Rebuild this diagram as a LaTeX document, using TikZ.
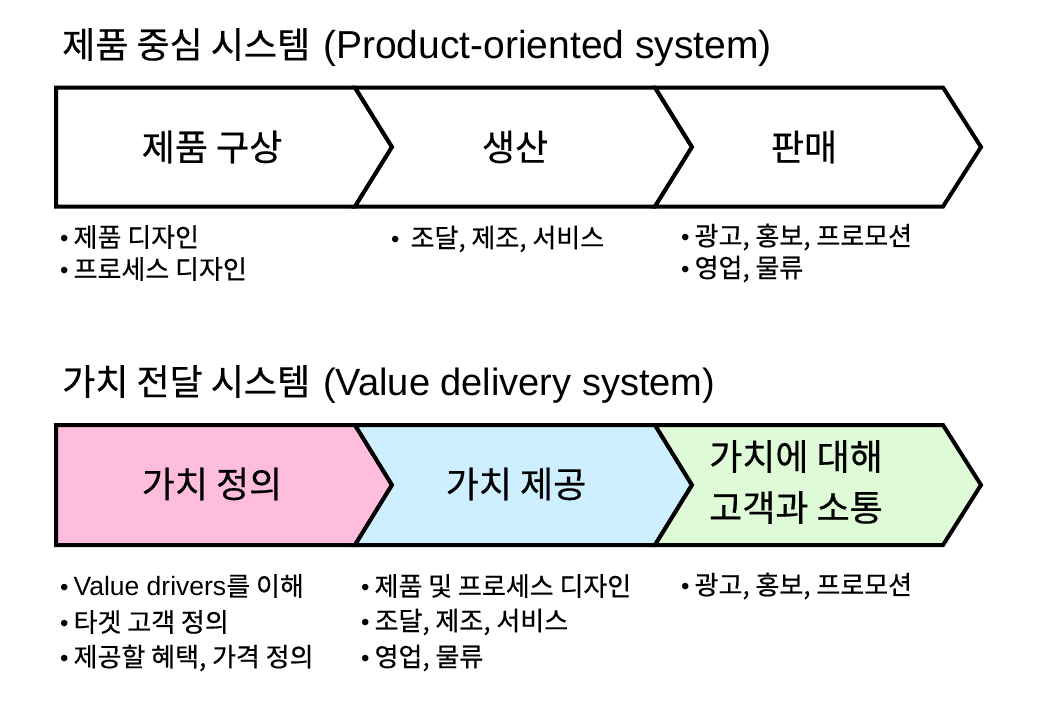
\documentclass[tikz,border=0pt]{standalone}
\usepackage{fontspec}
\setmainfont{Liberation Sans}
\newfontfamily\kr[FakeBold=0.5]{Noto Sans CJK KR}
\definecolor{vpink}{HTML}{FFBDDE}
\definecolor{vblue}{HTML}{CDEFFF}
\definecolor{vgreen}{HTML}{DFFAD6}
\tikzset{
  seg/.style={draw=black, line width=4pt, line join=miter, miter limit=10},
  lbl/.style={inner sep=0pt, font=\fontsize{36}{51}\selectfont\kr, align=center},
  ttl/.style={inner sep=0pt, anchor=base west},
  bul/.style={inner sep=0pt, anchor=west, font=\fontsize{26}{30}\selectfont\kr},
}
\newcommand\mybul{{\fontsize{24}{30}\selectfont\rmfamily •}\hspace{5pt}}
\newcommand\mylat[1]{{\fontsize{26.5}{30}\selectfont\rmfamily #1}}
\begin{document}
\begin{tikzpicture}[x=1pt,y=-1pt]
\useasboundingbox (0,0) rectangle (1040,712);
% titles
\node[ttl] (t1) at (62,58) {{\fontsize{36}{40}\selectfont\kr 제품 중심 시스템}\hspace{13pt}{\fontsize{39}{44}\selectfont (Product-oriented system)}};
\node[ttl] (t2) at (62,395) {{\fontsize{36}{40}\selectfont\kr 가치 전달 시스템}\hspace{13pt}{\fontsize{38}{44}\selectfont (Value delivery system)}};
% top row
\path[seg, fill=white] (56,87.5) -- (355,87.5) -- (392,147) -- (355,206.5) -- (56,206.5) -- cycle;
\path[seg, fill=white] (355,87.5) -- (655,87.5) -- (692,147) -- (655,206.5) -- (355,206.5) -- (392,147) -- cycle;
\path[seg, fill=white] (655,87.5) -- (943,87.5) -- (981,147) -- (943,206.5) -- (655,206.5) -- (692,147) -- cycle;
\node[lbl] (p1) at (212,147) {제품 구상};
\node[lbl] (p2) at (515,147) {생산};
\node[lbl] (p3) at (804,147) {판매};
% bottom row
\path[seg, fill=vpink] (56,425) -- (355,425) -- (392,485) -- (355,545) -- (56,545) -- cycle;
\path[seg, fill=vblue] (355,425) -- (655,425) -- (692,485) -- (655,545) -- (355,545) -- (392,485) -- cycle;
\path[seg, fill=vgreen] (655,425) -- (943,425) -- (981,485) -- (943,545) -- (655,545) -- (692,485) -- cycle;
\node[lbl] (v1) at (212,484) {가치 정의};
\node[lbl] (v2) at (516,484) {가치 제공};
\node[lbl] (v3) at (796,482) {가치에 대해\\고객과 소통};
% top bullets
\node[bul] (a1) at (60,237) {\mybul 제품 디자인};
\node[bul] (a2) at (60,269) {\mybul 프로세스 디자인};
\node[bul] (b1) at (391,239) {\mybul\hspace{6pt}조달, 제조, 서비스};
\node[bul] (c1) at (681,237) {\mybul 광고, 홍보, 프로모션};
\node[bul] (c2) at (681,269) {\mybul 영업, 물류};
% bottom bullets
\node[bul] (d1) at (60,586) {\mybul\mylat{Value drivers}를 이해};
\node[bul] (d2) at (60,622) {\mybul 타겟 고객 정의};
\node[bul] (d3) at (60,658) {\mybul 제공할 혜택, 가격 정의};
\node[bul] (e1) at (361,586) {\mybul 제품 및 프로세스 디자인};
\node[bul] (e2) at (361,622) {\mybul 조달, 제조, 서비스};
\node[bul] (e3) at (361,658) {\mybul 영업, 물류};
\node[bul] (f1) at (681,586) {\mybul 광고, 홍보, 프로모션};
\end{tikzpicture}
\end{document}
